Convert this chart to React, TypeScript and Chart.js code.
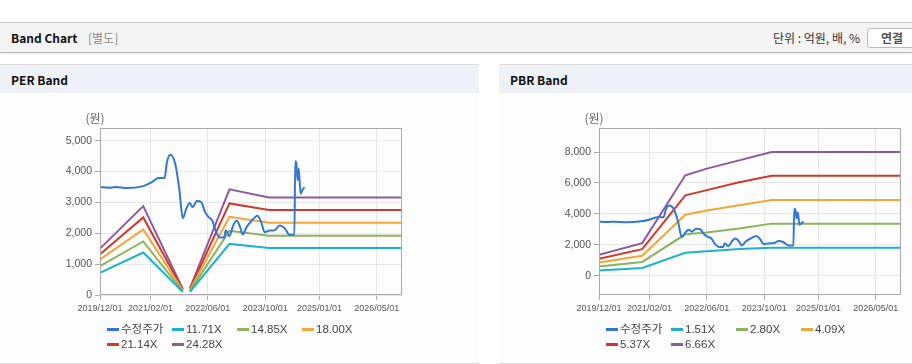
import React, { useEffect, useRef } from 'react';
import { Chart, registerables } from 'chart.js';
Chart.register(...registerables);

const FONT = "'Liberation Sans', 'Noto Sans CJK KR', sans-serif";
const KFONT = "'Noto Sans CJK KR', 'Liberation Sans', sans-serif";

// ---------- data ----------
const xMinDate = '2019/12/01';
const xMaxDate = '2026/12/01';
const xTickDates = ['2019/12/01', '2021/02/01', '2022/06/01', '2023/10/01', '2025/01/01', '2026/05/01'];

const priceLabel = '수정주가';
const priceDates = ['2019/12/01', '2020/02/13', '2020/04/10', '2020/07/18', '2020/11/21', '2021/02/13', '2021/04/10', '2021/05/31', '2021/06/20', '2021/07/18', '2021/08/29', '2021/10/02', '2021/11/01', '2021/12/01', '2021/12/30', '2022/01/23', '2022/03/01', '2022/04/06', '2022/05/09', '2022/06/06', '2022/07/07', '2022/08/16', '2022/09/13', '2022/10/17', '2022/10/31', '2022/11/30', '2023/01/03', '2023/02/01', '2023/03/01', '2023/03/23', '2023/04/26', '2023/06/07', '2023/07/26', '2023/08/27', '2023/09/25', '2023/11/06', '2023/12/18', '2024/01/30', '2024/03/12', '2024/04/23', '2024/06/03', '2024/06/10', '2024/06/20', '2024/06/30', '2024/07/10', '2024/07/25', '2024/08/10', '2024/08/28'];
const priceValues = [3497, 3474, 3497, 3464, 3519, 3659, 3789, 3789, 4308, 4545, 4253, 3441, 2490, 2800, 2980, 2847, 3042, 3010, 2685, 2532, 2420, 1994, 1864, 1864, 2100, 1906, 2263, 2403, 2208, 1961, 2208, 2403, 2570, 2360, 2036, 2090, 2100, 2253, 2165, 1948, 1948, 4330, 4250, 3714, 4091, 3279, 3400, 3497];

const perLabels = ['11.71X', '14.85X', '18.00X', '21.14X', '24.28X'];
const perBandDates = ['2019/12/01', '2020/12/01', '2021/11/01', '2021/12/01', '2022/01/01', '2022/12/01', '2023/11/01', '2026/12/01'];
const per1171 = [715, 1377, 95, null, 105, 1656, 1526, 1526];
const per1485 = [935, 1734, 120, null, 135, 2078, 1916, 1916];
const per1800 = [1150, 2123, 145, null, 165, 2532, 2338, 2338];
const per2114 = [1320, 2513, 170, null, 195, 2967, 2750, 2750];
const per2428 = [1505, 2880, 195, null, 225, 3422, 3160, 3160];
const perYTicks = [0, 1000, 2000, 3000, 4000, 5000];

const pbrLabels = ['1.51X', '2.80X', '4.09X', '5.37X', '6.66X'];
const pbrBandDates = ['2019/12/01', '2020/12/01', '2021/12/01', '2022/06/01', '2023/03/01', '2023/12/01', '2026/12/01'];
const pbr151 = [330, 505, 1480, 1580, 1720, 1812, 1812];
const pbr280 = [600, 890, 2680, 2790, 3050, 3370, 3370];
const pbr409 = [860, 1290, 3950, 4220, 4560, 4900, 4900];
const pbr537 = [1100, 1720, 5200, 5540, 6050, 6470, 6470];
const pbr666 = [1360, 2110, 6500, 6930, 7466, 8000, 8000];
const pbrYTicks = [0, 2000, 4000, 6000, 8000];

const colors = ['#3278d2', '#1db3c6', '#8db35c', '#f4a534', '#d0392b', '#8e5a9f'];

// ---------- helpers ----------
const ts = (s: string) => {
  const [y, m, d] = s.split('/').map(Number);
  return Date.UTC(y, m - 1, d);
};
const fmtDate = (v: number) => {
  const d = new Date(v);
  const mm = String(d.getUTCMonth() + 1).padStart(2, '0');
  const dd = String(d.getUTCDate()).padStart(2, '0');
  return `${d.getUTCFullYear()}/${mm}/${dd}`;
};
const pts = (dates: string[], vals: (number | null)[]) => dates.map((d, i) => ({ x: ts(d), y: vals[i] }));

const legendCols = [107, 172, 237, 302];

const decorPlugin = {
  id: 'decor',
  afterDatasetsDraw(chart: any) {
    const { ctx, chartArea: a } = chart;
    ctx.save();
    ctx.strokeStyle = '#aaaaaa';
    ctx.lineWidth = 1;
    ctx.strokeRect(Math.round(a.left) + 0.5, Math.round(a.top) + 0.5, Math.round(a.right - a.left) - 1, Math.round(a.bottom - a.top) - 1);
    ctx.restore();
  },
  afterDraw(chart: any) {
    const { ctx, chartArea: a } = chart;
    ctx.save();
    // unit title
    ctx.fillStyle = '#666';
    ctx.font = `12px ${KFONT}`;
    ctx.textAlign = 'center';
    ctx.textBaseline = 'middle';
    ctx.fillText('(원)', 95, 25);
    // legend
    ctx.textAlign = 'left';
    ctx.font = `11.5px ${FONT}`;
    chart.data.datasets.forEach((ds: any, i: number) => {
      const col = i % 4;
      const row = Math.floor(i / 4);
      const x = legendCols[col];
      const y = Math.round(a.bottom) + 34 + row * 15;
      ctx.fillStyle = ds.borderColor;
      ctx.fillRect(x, y - 1, 12, 3);
      ctx.fillStyle = '#444';
      ctx.fillText(ds.label, x + 14, y + 0.5);
    });
    ctx.restore();
  },
};

function makeConfig(bandDates: string[], bands: (number | null)[][], labels: string[], yMin: number, yMax: number, yTicks: number[], padRight: number): any {
  const datasets: any[] = [
    {
      label: priceLabel,
      data: pts(priceDates, priceValues),
      borderColor: colors[0],
      backgroundColor: colors[0],
      borderWidth: 2,
      pointRadius: 0,
      cubicInterpolationMode: 'monotone',
    },
    ...bands.map((b, i) => ({
      label: labels[i],
      data: pts(bandDates, b),
      borderColor: colors[i + 1],
      backgroundColor: colors[i + 1],
      borderWidth: 2,
      pointRadius: 0,
      tension: 0,
      spanGaps: false,
    })),
  ];
  return {
    type: 'line',
    data: { datasets },
    plugins: [decorPlugin],
    options: {
      animation: false,
      responsive: false,
      maintainAspectRatio: false,
      parsing: false,
      layout: { padding: { left: 0, right: padRight, top: 35, bottom: 48 } },
      plugins: { legend: { display: false }, tooltip: { enabled: false } },
      scales: {
        x: {
          type: 'linear',
          min: ts(xMinDate),
          max: ts(xMaxDate),
          afterBuildTicks: (s: any) => {
            s.ticks = xTickDates.map((d) => ({ value: ts(d) }));
          },
          afterFit: (s: any) => {
            s.height = 20;
          },
          ticks: {
            autoSkip: false,
            maxRotation: 0,
            padding: 3,
            color: '#555',
            font: { family: FONT, size: 9 },
            callback: (v: number) => fmtDate(v),
          },
          grid: { color: '#e6e6e6', tickColor: '#aaaaaa', tickLength: 5 },
          border: { display: false },
        },
        y: {
          type: 'linear',
          min: yMin,
          max: yMax,
          afterBuildTicks: (s: any) => {
            s.ticks = yTicks.map((v) => ({ value: v }));
          },
          afterFit: (s: any) => {
            s.width = 100;
          },
          ticks: {
            padding: 3,
            color: '#555',
            font: { family: FONT, size: 10.5 },
            callback: (v: number) => v.toLocaleString('en-US'),
          },
          grid: { color: '#e6e6e6', tickColor: '#aaaaaa', tickLength: 5 },
          border: { display: false },
        },
      },
    },
  };
}

function ChartCanvas({ config, width, height }: { config: any; width: number; height: number }) {
  const ref = useRef<HTMLCanvasElement | null>(null);
  useEffect(() => {
    if (!ref.current) return;
    const chart = new Chart(ref.current, config);
    return () => chart.destroy();
  }, []);
  return <canvas ref={ref} width={width} height={height} style={{ display: 'block', width, height }} />;
}

function Panel({ left, width, title, config }: { left: number; width: number; title: string; config: any }) {
  return (
    <div style={{ position: 'absolute', left, top: 64, width, height: 300 }}>
      <div
        style={{
          position: 'absolute',
          left: 0,
          top: 0,
          width,
          height: 29,
          boxSizing: 'border-box',
          borderTop: '1px solid #dcdcdc',
          background: '#eef2f6',
          display: 'flex',
          alignItems: 'center',
          paddingLeft: 11,
          fontFamily: KFONT,
          fontWeight: 'bold',
          fontSize: 12,
          color: '#111',
        }}
      >
        {title}
      </div>
      <div
        style={{
          position: 'absolute',
          left: 0,
          top: 29,
          width,
          height: 271,
          boxSizing: 'border-box',
          borderBottom: '1px solid #dadada',
          background: '#fdfdfd',
        }}
      >
        <ChartCanvas config={config} width={width} height={270} />
      </div>
    </div>
  );
}

export default function App() {
  const perConfig = makeConfig(perBandDates, [per1171, per1485, per1800, per2114, per2428], perLabels, 0, 5410, perYTicks, 77);
  const pbrConfig = makeConfig(pbrBandDates, [pbr151, pbr280, pbr409, pbr537, pbr666], pbrLabels, -1250, 9560, pbrYTicks, 11);
  return (
    <div style={{ position: 'absolute', left: 0, top: 0, width: 912, height: 364, background: '#fff', overflow: 'hidden', fontFamily: KFONT }}>
      <div
        style={{
          position: 'absolute',
          left: 0,
          top: 22,
          width: 912,
          height: 31,
          boxSizing: 'border-box',
          background: '#f4f4f4',
          borderTop: '1px solid #c4c4c4',
          borderBottom: '1px solid #b8b8b8',
          boxShadow: '0 1px 2px rgba(0,0,0,0.08)',
        }}
      >
        <span style={{ position: 'absolute', left: 11, top: 6, fontSize: 12, fontWeight: 'bold', color: '#111', lineHeight: '18px' }}>Band Chart</span>
        <span style={{ position: 'absolute', left: 88, top: 6, fontSize: 12, color: '#888', lineHeight: '18px' }}>[별도]</span>
        <span style={{ position: 'absolute', right: 912 - 860, top: 6, fontSize: 12, color: '#333', lineHeight: '18px', whiteSpace: 'nowrap' }}>단위 : 억원, 배, %</span>
        <div
          style={{
            position: 'absolute',
            left: 867,
            top: 5,
            width: 50,
            height: 20,
            boxSizing: 'border-box',
            border: '1px solid #bbbbbb',
            borderRadius: 3,
            background: '#fff',
            fontSize: 12,
            fontWeight: 'bold',
            color: '#555',
            lineHeight: '18px',
            textAlign: 'center',
          }}
        >
          연결
        </div>
      </div>
      <Panel left={0} width={479} title="PER Band" config={perConfig} />
      <Panel left={499} width={413} title="PBR Band" config={pbrConfig} />
    </div>
  );
}
